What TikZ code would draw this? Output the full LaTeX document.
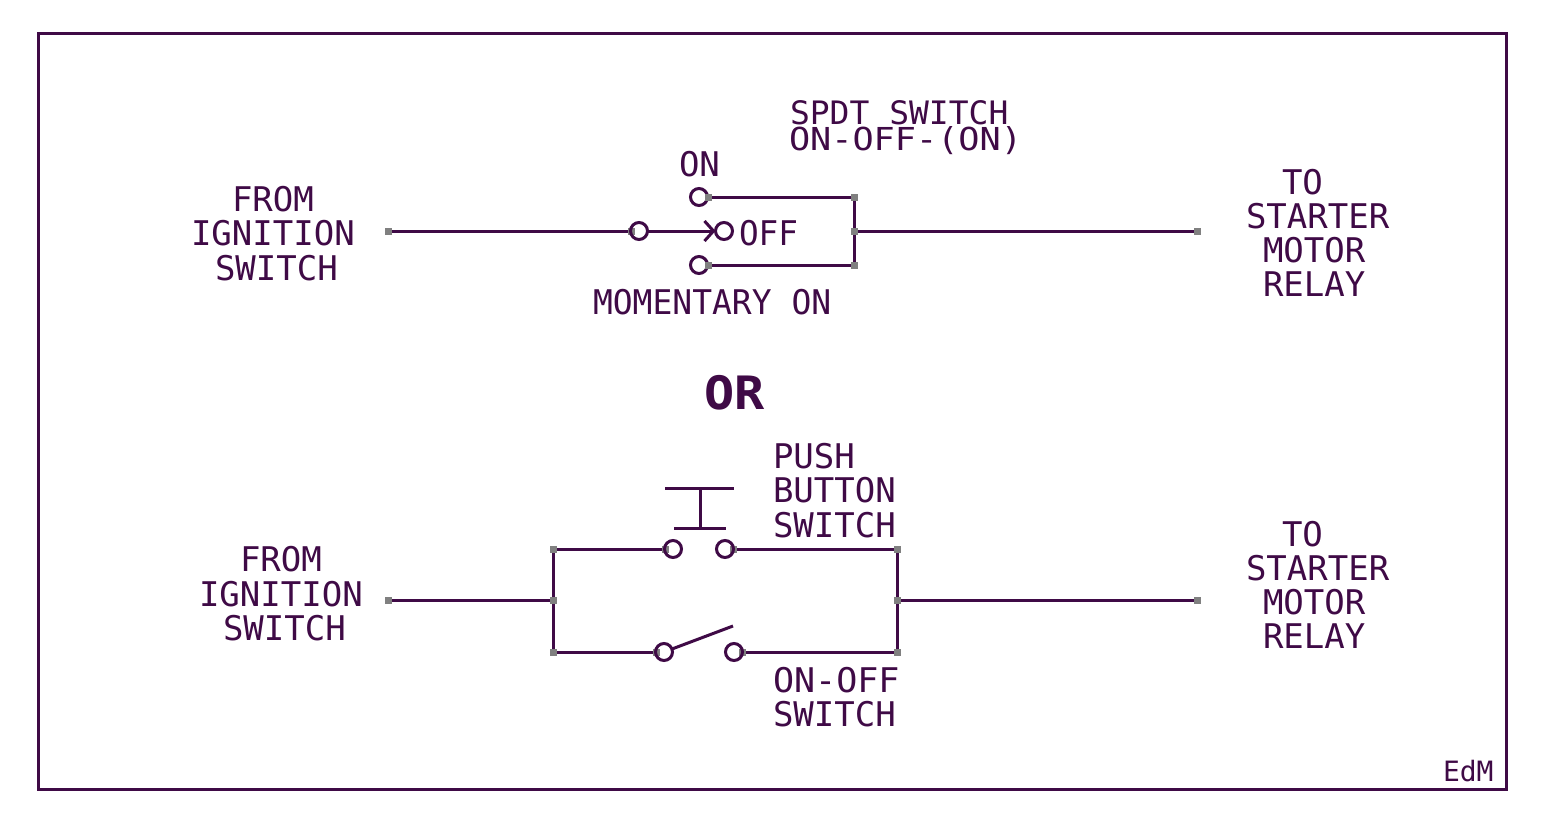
\documentclass[tikz,border=0pt]{standalone}
\usepackage{fontspec}
\setmainfont{DejaVu Sans Mono}
\usetikzlibrary{arrows.meta,backgrounds}
\definecolor{ink}{HTML}{3F0A46}
\definecolor{padgrey}{HTML}{808080}
\tikzset{
  lbl/.style={anchor=base west,inner sep=0pt,outer sep=0pt,text=ink,font=\fontsize{34}{34}\selectfont},
  bigl/.style={anchor=base west,inner sep=0pt,outer sep=0pt,text=ink,font=\fontsize{46}{46}\selectfont\bfseries},
  smalll/.style={anchor=base west,inner sep=0pt,outer sep=0pt,text=ink,font=\fontsize{28}{28}\selectfont},
  pad/.style={rectangle,fill=padgrey,draw=none,minimum size=7pt,inner sep=0pt,outer sep=0pt},
  term/.style={circle,draw=ink,line width=3pt,fill=none,minimum size=17pt,inner sep=0pt,outer sep=0pt},
  wire/.style={draw=ink,line width=3pt},
}
\begin{document}
\begin{tikzpicture}[x=1pt,y=-1pt]
\useasboundingbox (0,0) rectangle (1547,822);
\coordinate (fa) at (38,33);
\coordinate (fb) at (1506,789);
% upper switch
\node[pad] (p1) at (388,231) {};
\node[pad] (p2) at (631,231) {};
\node[term] (c1) at (639,231) {};
\node[term] (con) at (699,197) {};
\node[term] (coff) at (724,231) {};
\node[term] (cmom) at (699,265) {};
\node[pad] (p3) at (708,197) {};
\node[pad] (p4) at (708,265) {};
\node[pad] (p5) at (854,197) {};
\node[pad] (p6) at (854,231) {};
\node[pad] (p7) at (854,265) {};
\node[pad] (p8) at (1197,231) {};
% lower switch
\node[pad] (q1) at (388,600) {};
\node[pad] (q2) at (553,549) {};
\node[pad] (q3) at (553,600) {};
\node[pad] (q4) at (553,652) {};
\node[pad] (q5) at (665,549) {};
\node[pad] (q6) at (733,549) {};
\node[pad] (q7) at (656,652) {};
\node[pad] (q8) at (742,652) {};
\node[pad] (q9) at (897,549) {};
\node[pad] (q10) at (897,600) {};
\node[pad] (q11) at (897,652) {};
\node[pad] (q12) at (1197,600) {};
\node[term] (b1) at (673,549) {};
\node[term] (b2) at (725,549) {};
\node[term] (s1) at (664,652) {};
\node[term] (s2) at (734,652) {};
\coordinate (btl) at (665,488);
\coordinate (btr) at (734,488);
\coordinate (btm) at (700,488);
\coordinate (bbl) at (674,528);
\coordinate (bbr) at (726,528);
\coordinate (bbm) at (700,528);
\coordinate (blade) at (733,626);
\begin{scope}[on background layer]
\fill[white] (0,0) rectangle (1547,822);
\draw[wire] (fa) rectangle (fb);
\draw[wire] (p1.center) -- (p2.center);
\draw[wire,-{Straight Barb[length=9pt,width=20pt]}] (c1) -- (coff.west);
\draw[wire] (p3.center) -- (p5.center);
\draw[wire] (p4.center) -- (p7.center);
\draw[wire] (p5.center) -- (p7.center);
\draw[wire] (p6.center) -- (p8.center);
\draw[wire] (q1.center) -- (q3.center);
\draw[wire] (q2.center) -- (q4.center);
\draw[wire] (q2.center) -- (q5.center);
\draw[wire] (q4.center) -- (q7.center);
\draw[wire] (q6.center) -- (q9.center);
\draw[wire] (q8.center) -- (q11.center);
\draw[wire] (q9.center) -- (q11.center);
\draw[wire] (q10.center) -- (q12.center);
\draw[wire] (btl) -- (btr);
\draw[wire] (bbl) -- (bbr);
\draw[wire] (btm) -- (bbm);
\draw[wire] (s1) -- (blade);
\end{scope}
% labels
\node[lbl] (t1) at (232,211) {FROM};
\node[lbl] (t2) at (191,245) {IGNITION};
\node[lbl] (t3) at (215,280) {SWITCH};
\node[lbl] (t4) at (1282,194) {TO};
\node[lbl] (t5) at (1246,228) {STARTER};
\node[lbl] (t6) at (1263,262) {MOTOR};
\node[lbl] (t7) at (1263,296) {RELAY};
\node[lbl,xscale=.97,yscale=.95] (t8) at (790,124) {SPDT SWITCH};
\node[lbl,xscale=1.035,yscale=.93] (t9) at (789,150) {ON-OFF-(ON)};
\node[lbl] (t10) at (679,176) {ON};
\node[lbl,xscale=.96] (t11) at (739,245) {OFF};
\node[lbl,xscale=.97] (t12) at (593,314) {MOMENTARY ON};
\node[bigl,xscale=1.09] (t13) at (704,409) {OR};
\node[lbl] (t14) at (773,468) {PUSH};
\node[lbl] (t15) at (773,502) {BUTTON};
\node[lbl] (t16) at (773,537) {SWITCH};
\node[lbl] (t17) at (240,571) {FROM};
\node[lbl] (t18) at (199,606) {IGNITION};
\node[lbl] (t19) at (223,640) {SWITCH};
\node[lbl] (t20) at (1282,546) {TO};
\node[lbl] (t21) at (1246,580) {STARTER};
\node[lbl] (t22) at (1263,614) {MOTOR};
\node[lbl] (t23) at (1263,648) {RELAY};
\node[lbl,xscale=1.03] (t24) at (773,692) {ON-OFF};
\node[lbl] (t25) at (773,726) {SWITCH};
\node[smalll] (t26) at (1443,781) {EdM};
\end{tikzpicture}
\end{document}
